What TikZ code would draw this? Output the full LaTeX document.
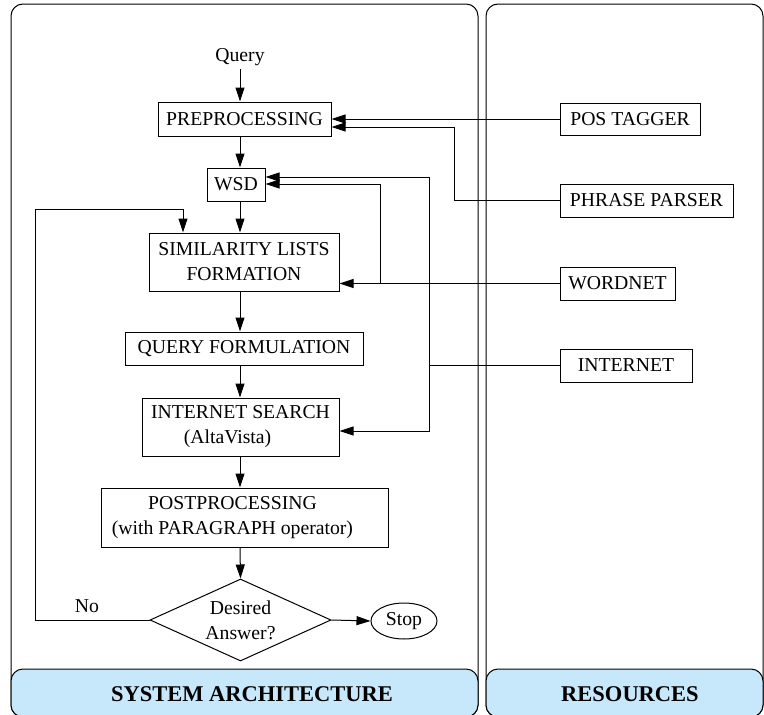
\documentclass[tikz,border=0pt]{standalone}
\usepackage{fontspec}
\setmainfont{Liberation Serif}
\usetikzlibrary{arrows.meta,shapes.geometric}
\definecolor{barblue}{RGB}{199,231,250}
\begin{document}
\begin{tikzpicture}[x=1pt,y=-1pt,
  every node/.style={font=\fontsize{19.7}{25}\selectfont},
  box/.style={draw, line width=1pt, inner sep=0pt, align=center},
  link/.style={line width=1pt},
  arr/.style={link, -{Triangle[length=14pt,width=9pt]}},
  panel/.style={draw, line width=1pt, rounded corners=12pt},
  bar/.style={draw, fill=barblue, line width=1pt, rounded corners=12pt},
  bartext/.style={font=\fontsize{22.5}{27}\selectfont\bfseries}
]
\useasboundingbox (0,0) rectangle (764,715);

% two panels with their title bars
\draw[panel] (11,4) rectangle (478,717);
\draw[bar] (11,669) rectangle (478,717);
\draw[panel] (486,4) rectangle (763,717);
\draw[bar] (486,669) rectangle (763,717);
\node[bartext] (sa) at (252,694) {SYSTEM ARCHITECTURE};
\node[bartext] (res) at (630,694) {RESOURCES};

% processing chain
\coordinate (spine) at (240,0);
\node (query) at (240,57) {Query};
\node[box, minimum width=173pt, minimum height=34pt] (pre) at (244.5,119) {PREPROCESSING};
\node[box, minimum width=58pt, minimum height=33pt] (wsd) at (236,184.5) {WSD};
\node[box, minimum width=190pt, minimum height=58pt] (sim) at (244,262) {SIMILARITY LISTS\\FORMATION};
\node[box, minimum width=238pt, minimum height=33pt] (qf) at (244,348.5) {QUERY FORMULATION};
\node[box, minimum width=197pt, minimum height=58pt] (is) at (240.5,427) {INTERNET SEARCH\\(AltaVista)\hspace*{26pt}};
\node[box, minimum width=287pt, minimum height=59pt] (post) at (244.5,517.5) {POSTPROCESSING\hspace*{24pt}\\(with PARAGRAPH operator)\hspace*{24pt}};
\node[draw, line width=1pt, diamond, aspect=2.2, inner sep=0pt, align=center,
      minimum width=181pt, minimum height=82pt] (dec) at (240.5,620) {Desired\\Answer?};
\node[draw, line width=1pt, ellipse, inner sep=0pt, minimum width=66pt, minimum height=36pt] (stop) at (404,621) {Stop};
\node (no) at (87,606) {No};

% resources
\node[box, minimum width=140pt, minimum height=32pt] (pos) at (630,119) {POS TAGGER};
\node[box, minimum width=173pt, minimum height=33pt] (pp) at (646.5,200.5) {PHRASE PARSER};
\node[box, minimum width=115pt, minimum height=33pt] (wn) at (617.5,283.5) {WORDNET};
\node[box, minimum width=132pt, minimum height=33pt] (int) at (626,365.5) {INTERNET};

% main flow
\draw[arr] (query.south) -- (pre.north -| query.south);
\draw[arr] (pre.south -| spine) -- (wsd.north -| spine);
\draw[arr] (wsd.south -| spine) -- (sim.north -| spine);
\draw[arr] (sim.south -| spine) -- (qf.north -| spine);
\draw[arr] (qf.south -| spine) -- (is.north -| spine);
\draw[arr] (is.south -| spine) -- (post.north -| spine);
\draw[arr] (post.south -| spine) -- (dec.north);
\draw[arr] (dec.east) -- (stop.west);

% feedback loop
\coordinate (back) at (35,209);
\coordinate (simin) at (183,0);
\draw[arr] (dec.west) -| (back) -| (sim.north -| simin);

% resource links
\draw[arr] (pos.west) -- (pos.west -| pre.east);
\coordinate (ppx) at (454,127);
\draw[arr] (pp.west) -| (ppx) -- (ppx -| pre.east);
\draw[arr] (wn.west) -- (wn.west -| sim.east);
\coordinate (wnx) at (380,184);
\draw[arr] (wn.west -| wnx) -- (wnx) -- (wnx -| wsd.east);
\coordinate (intTop) at (429,177);
\coordinate (intBot) at (429,431);
\draw[link] (int.west) -- (int.west -| intTop);
\draw[arr] (intTop) -- (intTop -| wsd.east);
\draw[arr] (intTop) -- (intBot) -- (intBot -| is.east);
\end{tikzpicture}
\end{document}
